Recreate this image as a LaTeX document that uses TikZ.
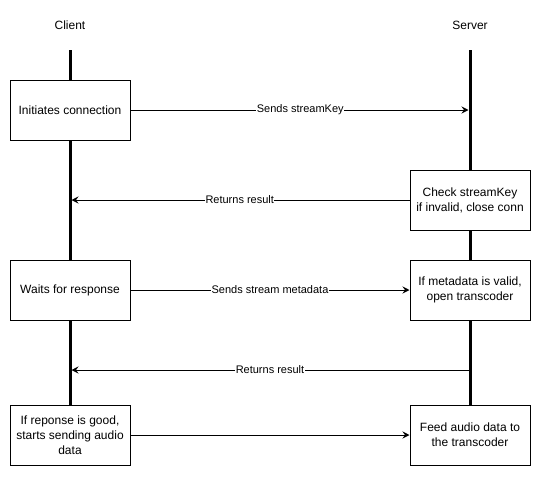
\documentclass[tikz,border=0pt]{standalone}
\usepackage{fontspec}
\setmainfont{Liberation Sans}
\usetikzlibrary{arrows.meta}

\begin{document}
\begin{tikzpicture}[x=1pt,y=-1pt,
  every node/.style={font=\fontsize{12}{15}\selectfont},
  box/.style={draw,line width=1pt,fill=white,minimum width=120pt,minimum height=60pt,align=center,inner sep=2pt},
  life/.style={line width=3pt},
  msg/.style={line width=1pt,-{Stealth[length=7pt,width=7pt,inset=2.5pt]}},
  lbl/.style={fill=white,inner sep=0.5pt,font=\fontsize{11}{13}\selectfont}]
\useasboundingbox (0,0) rectangle (541,477);

\node (client) at (70,25) {Client};
\node (server) at (470,25) {Server};
\coordinate (ctop) at (70,50);
\coordinate (stop) at (470,50);

\node[box] (init)  at (70,110)  {Initiates connection};
\node[box] (check) at (470,200) {Check streamKey\\if invalid, close conn};
\node[box] (wait)  at (70,290)  {Waits for response};
\node[box] (meta)  at (470,290) {If metadata is valid,\\open transcoder};
\node[box] (good)  at (70,435)  {If reponse is good,\\starts sending audio\\data};
\node[box] (feed)  at (470,435) {Feed audio data to\\the transcoder};

% lifelines
\draw[life] (ctop) -- (init.north);
\draw[life] (init.south) -- (wait.north);
\draw[life] (wait.south) -- (good.north);
\draw[life] (stop) -- (check.north);
\draw[life] (check.south) -- (meta.north);
\draw[life] (meta.south) -- (feed.north);

\coordinate (keyin)  at (470,110);
\coordinate (res1in) at (70,200);
\coordinate (res2out) at (470,370);
\coordinate (res2in) at (70,370);

% messages
\draw[msg,shorten >=1.5pt] (init.east) -- node[lbl] {Sends streamKey} (keyin);
\draw[msg,shorten >=1.5pt] (check.west) -- node[lbl] {Returns result} (res1in);
\draw[msg] (wait.east) -- node[lbl] {Sends stream metadata} (meta.west);
\draw[msg,shorten >=1.5pt] (res2out) -- node[lbl] {Returns result} (res2in);
\draw[msg] (good.east) -- (feed.west);
\end{tikzpicture}
\end{document}
